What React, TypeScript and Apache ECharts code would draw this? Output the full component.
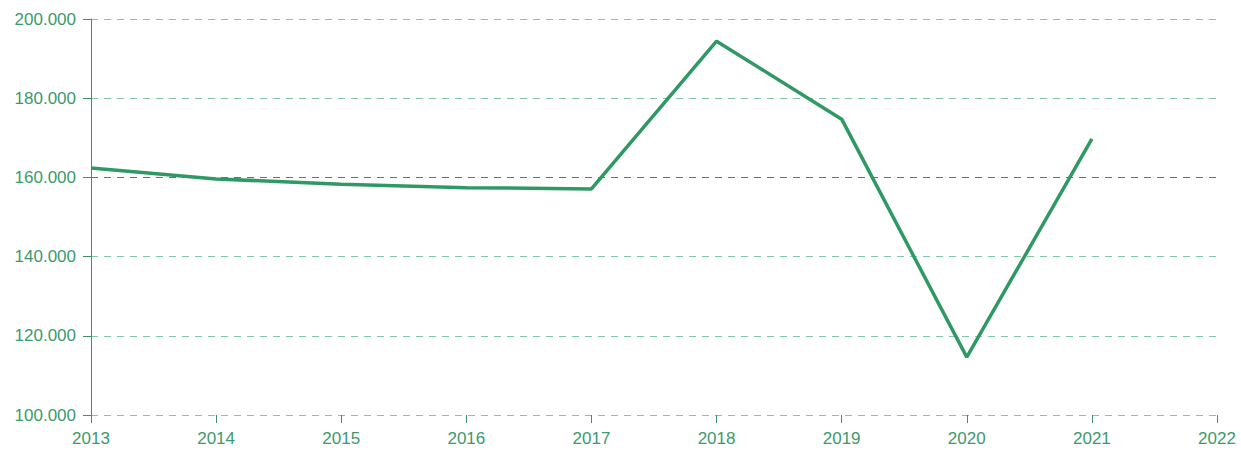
import React, { useEffect, useRef } from "react";
import * as echarts from "echarts";

const years = ["2013", "2014", "2015", "2016", "2017", "2018", "2019", "2020", "2021", "2022"];
const values = [162400, 159600, 158300, 157400, 157100, 194400, 174700, 114600, 169700];
const gridColors = ["#7fc8a4", "#7fc8a4", "#7fc8a4", "#3f8a66", "#7fc8a4", "#7fc8a4"];

const textColor = "#3c9a6c";
const axisColor = "#3f8f69";

function fmt(v: number) {
  const s = Math.round(v / 1000).toString();
  return s + ".000";
}

export default function App() {
  const ref = useRef<HTMLDivElement>(null);
  useEffect(() => {
    const chart = echarts.init(ref.current!, null, { renderer: "svg" });
    chart.setOption({
      animation: false,
      grid: { left: 91, right: 24, top: 19, bottom: 35, containLabel: false },
      xAxis: {
        type: "category",
        data: years,
        boundaryGap: false,
        axisLine: { show: false },
        axisTick: { show: true, length: 8, lineStyle: { color: axisColor } },
        axisLabel: { color: textColor, fontSize: 17, fontFamily: "Liberation Sans, Arial, sans-serif", margin: 15 },
        splitLine: { show: false },
      },
      yAxis: {
        type: "value",
        min: 100000,
        max: 200000,
        interval: 20000,
        axisLine: { show: true, lineStyle: { color: axisColor } },
        axisTick: { show: true, length: 8, lineStyle: { color: axisColor } },
        axisLabel: {
          color: textColor,
          fontSize: 17,
          fontFamily: "Liberation Sans, Arial, sans-serif",
          margin: 15,
          formatter: (v: number) => fmt(v),
        },
        splitLine: { show: true, lineStyle: { color: gridColors, type: [7, 6], width: 1 } },
      },
      series: [
        {
          type: "line",
          data: values,
          symbol: "none",
          lineStyle: { color: "#2f9964", width: 3.5 },
          itemStyle: { color: "#2f9964" },
        },
      ],
    });
    return () => chart.dispose();
  }, []);
  return <div ref={ref} style={{ width: 1241, height: 450, position: "absolute", left: 0, top: 0 }} />;
}
